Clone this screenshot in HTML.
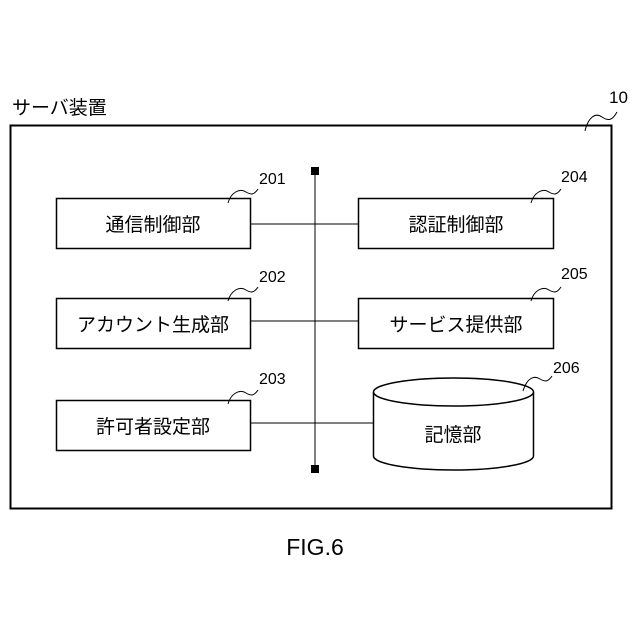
<!DOCTYPE html>
<html><head><meta charset="utf-8"><style>
html,body{margin:0;padding:0;background:#fff;}
svg{display:block;}
text{font-family:"Liberation Sans","Noto Sans CJK JP",sans-serif;fill:#000;}
</style></head><body>
<svg width="640" height="640" viewBox="0 0 640 640" xmlns="http://www.w3.org/2000/svg">
<rect width="640" height="640" fill="#fff"/>
<text x="12" y="114" font-size="19">サーバ装置</text>
<rect x="10.5" y="125.5" width="601" height="383" fill="none" stroke="#000" stroke-width="2"/>
<text x="609" y="103" font-size="17">10</text>
<path d="M585,131 C588,118 595,112 602,117 C608,121 612,121 617,112" fill="none" stroke="#000" stroke-width="1"/>
<line x1="315" y1="171" x2="315" y2="469" stroke="#000" stroke-width="1"/>
<rect x="311" y="167" width="8" height="8" fill="#000"/>
<rect x="311" y="465" width="8" height="8" fill="#000"/>
<line x1="251" y1="224" x2="358" y2="224" stroke="#000" stroke-width="1"/>
<line x1="251" y1="321" x2="358" y2="321" stroke="#000" stroke-width="1"/>
<line x1="251" y1="423" x2="374" y2="423" stroke="#000" stroke-width="1"/>
<g fill="#fff" stroke="#000" stroke-width="1.5">
<rect x="56.5" y="198.5" width="194" height="50"/>
<rect x="56.5" y="298.5" width="194" height="50"/>
<rect x="56.5" y="400.5" width="194" height="50"/>
<rect x="358.5" y="198.5" width="195" height="50"/>
<rect x="358.5" y="298.5" width="195" height="50"/>
</g>
<path d="M373.5,392 L373.5,456 A80,14 0 0 0 533.5,456 L533.5,392" fill="#fff" stroke="#000" stroke-width="1.5"/>
<ellipse cx="453.5" cy="392" rx="80" ry="14" fill="#fff" stroke="#000" stroke-width="1.5"/>
<g font-size="19" text-anchor="middle">
<text x="153" y="231">通信制御部</text>
<text x="153" y="331">アカウント生成部</text>
<text x="153" y="433">許可者設定部</text>
<text x="456" y="231">認証制御部</text>
<text x="456" y="331">サービス提供部</text>
<text x="453" y="441">記憶部</text>
</g>
<g font-size="16">
<text x="259" y="184">201</text>
<text x="259" y="282">202</text>
<text x="259" y="384">203</text>
<text x="561" y="182">204</text>
<text x="561" y="279">205</text>
<text x="553" y="373">206</text>
</g>
<g fill="none" stroke="#000" stroke-width="1">
<path d="M228,203 C231,192 240,188 246,192 C251,195 254,195 258,189"/>
<path d="M228,301 C231,290 240,286 246,290 C251,293 254,293 258,287"/>
<path d="M228,404 C231,393 240,389 246,393 C251,396 254,396 258,390"/>
<path d="M531,203 C534,192 543,188 549,192 C554,195 557,195 561,189"/>
<path d="M531,301 C534,290 543,286 549,290 C554,293 557,293 561,287"/>
<path d="M523,391 C527,378 534,375 540,379 C545,382 548,382 552,376"/>
</g>
<text x="315" y="555" font-size="23" text-anchor="middle">FIG.6</text>
</svg>
</body></html>
